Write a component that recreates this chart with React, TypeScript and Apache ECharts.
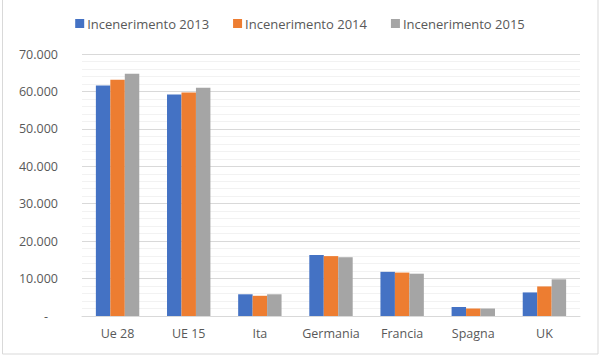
import React, { useEffect, useRef } from "react";
import * as echarts from "echarts";

const categories = ["Ue 28", "UE 15", "Ita", "Germania", "Francia", "Spagna", "UK"];
const seriesNames = ["Incenerimento 2013", "Incenerimento 2014", "Incenerimento 2015"];
const values2013 = [61600, 59200, 5800, 16300, 11800, 2400, 6300];
const values2014 = [63100, 59700, 5400, 16000, 11600, 2000, 7900];
const values2015 = [64700, 61000, 5800, 15700, 11300, 2000, 9800];
const colors = ["#4472C4", "#ED7D31", "#A5A5A5"];

const FONT = "'Open Sans', 'Noto Sans', sans-serif";

function fmt(v: number): string {
  if (v === 0) return "{d|-}";
  const s = String(Math.round(v));
  return s.replace(/\B(?=(\d{3})+(?!\d))/g, ".");
}

export default function App() {
  const ref = useRef<HTMLDivElement>(null);
  useEffect(() => {
    if (!ref.current) return;
    const chart = echarts.init(ref.current, undefined, { renderer: "svg" });
    const data = [values2013, values2014, values2015];
    chart.setOption({
      animation: false,
      backgroundColor: "#ffffff",
      graphic: [
        {
          type: "rect",
          shape: { x: 2.5, y: -2, width: 595.5, height: 356 },
          style: { fill: "none", stroke: "#d9d9d9", lineWidth: 1 },
          silent: true,
        },
      ],
      legend: {
        top: 12,
        left: "center",
        itemWidth: 9,
        itemHeight: 9,
        itemGap: 24,
        icon: "rect",
        textStyle: { color: "#595959", fontSize: 13, fontFamily: FONT, padding: [0, 0, 0, -2] },
        data: seriesNames,
      },
      grid: { left: 82, right: 20, top: 54, bottom: 41 },
      xAxis: {
        type: "category",
        data: categories,
        axisTick: { show: false },
        axisLine: { lineStyle: { color: "#d9d9d9", width: 1 } },
        axisLabel: { color: "#595959", fontSize: 12.5, fontFamily: FONT, margin: 11, interval: 0 },
      },
      yAxis: {
        type: "value",
        min: 0,
        max: 70000,
        interval: 10000,
        axisLine: { show: false },
        axisTick: { show: false },
        axisLabel: {
          color: "#595959",
          fontSize: 12.5,
          fontFamily: FONT,
          margin: 24,
          formatter: fmt,
          rich: { d: { fontSize: 12.5, fontFamily: FONT, color: "#595959", padding: [0, 10, 0, 0] } },
        },
        splitLine: { lineStyle: { color: "#d9d9d9", width: 1 } },
        minorTick: { show: false, splitNumber: 5 },
        minorSplitLine: { show: true, lineStyle: { color: "#f2f2f2", width: 1 } },
      },
      series: seriesNames.map((name, i) => ({
        name,
        type: "bar",
        data: data[i],
        itemStyle: { color: colors[i] },
        barGap: "0%",
        barCategoryGap: "39%",
      })),
    });
    return () => chart.dispose();
  }, []);
  return <div ref={ref} style={{ width: 600, height: 357, position: "absolute", left: 0, top: 0 }} />;
}
